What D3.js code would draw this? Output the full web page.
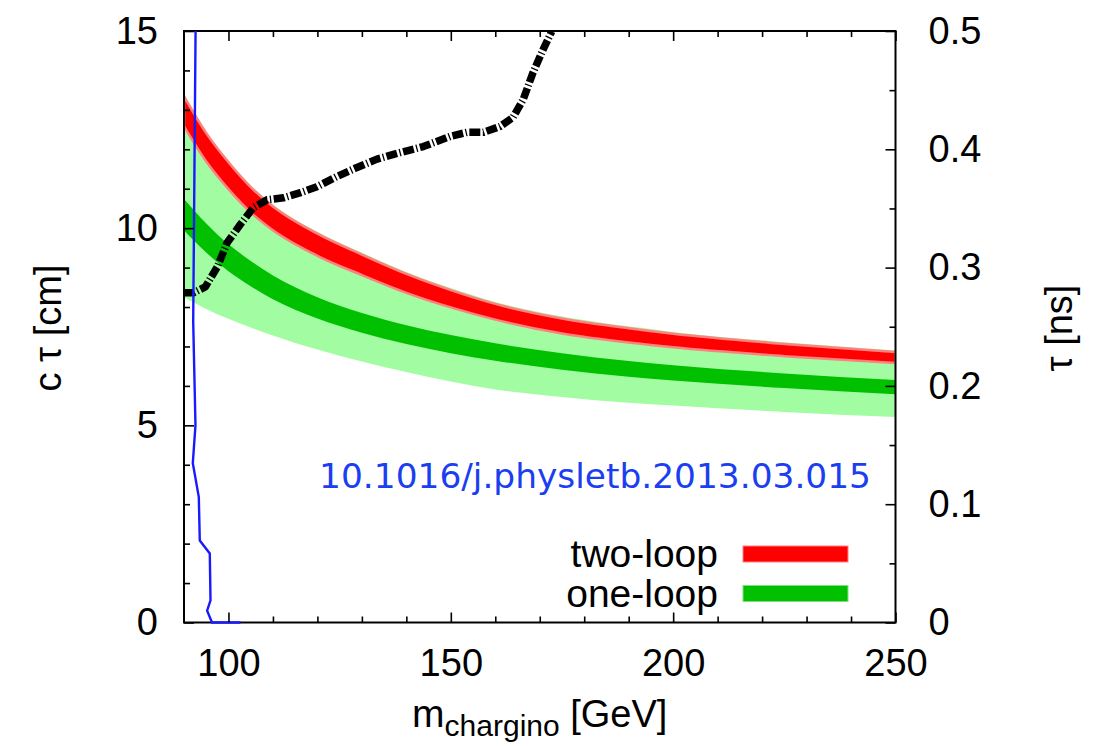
<!DOCTYPE html>
<html><head><meta charset="utf-8">
<script src="https://cdn.jsdelivr.net/npm/d3@7"></script>
<style>
body{margin:0;background:#fff;}
svg{display:block;}
text{font-family:"Liberation Sans",Arial,Helvetica,sans-serif;fill:#000;}
</style></head>
<body>
<svg id="chart" width="1105" height="746"></svg>
<script>
// ---- data ----
const masses = [90,95,100,105,110,120,130,140,150,160,175,190,200,225,250];
const twoLoopHigh = [13.34,12.41,11.67,11.04,10.55,9.86,9.33,8.84,8.43,8.08,7.71,7.46,7.32,7.065,6.86];
const twoLoopLow  = [12.58,11.69,10.99,10.40,9.95,9.30,8.81,8.36,7.99,7.68,7.33,7.10,6.98,6.755,6.58];
const oneLoopHigh = [10.74,10.12,9.59,9.17,8.80,8.25,7.85,7.54,7.29,7.08,6.83,6.63,6.525,6.315,6.15];
const oneLoopLow  = [9.94,9.38,8.91,8.53,8.20,7.71,7.35,7.06,6.83,6.64,6.41,6.23,6.135,5.945,5.79];
const oneLoopRangeHigh = [13.40,12.46,11.72,11.09,10.60,9.91,9.38,8.89,8.48,8.13,7.76,7.51,7.37,7.11,6.90];
const oneLoopRangeLow  = [8.25,7.95,7.70,7.48,7.28,6.92,6.62,6.35,6.11,5.91,5.72,5.57,5.50,5.34,5.21];
const limitMass = [90,92.1,94.8,97.5,99.7,102.7,105.6,108.7,112.4,116.2,119.9,124.4,128.9,133.4,138.7,143.8,149.9,153.6,157.3,161.1,164.0,166.3,168.5,170.8,172.7];
const limitCtau = [8.36,8.36,8.51,9.02,9.63,10.1,10.52,10.72,10.77,10.9,11.05,11.31,11.54,11.75,11.92,12.07,12.33,12.43,12.43,12.58,12.81,13.27,13.95,14.54,14.99];
const blueMass = [92.6,92.07,92.58,91.98,93.33,93.55,95.8,95.96,95.2,96.3,102.7];
const blueCtau = [15,7.62,5.0,4.04,3.18,2.08,1.75,0.56,0.30,0.0,0.0];
const xMajorTicks = [100,150,200,250];
const yMajorTicks = [0,5,10,15];
const y2MajorTicks = [0,0.1,0.2,0.3,0.4,0.5];
const legendLabels = ["two-loop","one-loop"];
const doiText = "10.1016/j.physletb.2013.03.015";

// ---- layout ----
const L=184, R=895.5, T=31, B=622.5;
const svg = d3.select("#chart");
const x = d3.scaleLinear().domain([90,250]).range([L,R]);
const y = d3.scaleLinear().domain([0,15]).range([B,T]);
const y2 = d3.scaleLinear().domain([0,0.5]).range([B,T]);

svg.append("defs").append("clipPath").attr("id","clip")
  .append("rect").attr("x",L).attr("y",T).attr("width",R-L).attr("height",B-T);
const plot = svg.append("g").attr("clip-path","url(#clip)");

function band(hi, lo){
  return d3.area().x((d,i)=>x(masses[i])).y0((d,i)=>y(lo[i])).y1((d,i)=>y(hi[i])).curve(d3.curveMonotoneX)(masses);
}
plot.append("path").attr("d",band(oneLoopRangeHigh,oneLoopRangeLow)).attr("fill","#a2fca2");
plot.append("path").attr("d",band(twoLoopHigh,twoLoopLow)).attr("fill","#ff0000").attr("stroke","#ff8080").attr("stroke-width",2.5);
plot.append("path").attr("d",band(oneLoopHigh,oneLoopLow)).attr("fill","#00c000");

const limitLine = d3.line().x(d=>x(d[0])).y(d=>y(d[1])).curve(d3.curveLinear);
plot.append("path").attr("d",limitLine(limitMass.map((m,i)=>[m,limitCtau[i]])))
  .attr("fill","none").attr("stroke","#000").attr("stroke-width",7.5)
  .attr("stroke-dasharray","11,2.5,1.3,2.5").attr("stroke-linejoin","round");

// frame
svg.append("rect").attr("x",L).attr("y",T).attr("width",R-L).attr("height",B-T)
  .attr("fill","none").attr("stroke","#000").attr("stroke-width",2);

// blue line on top
svg.append("path").attr("d",limitLine(blueMass.map((m,i)=>[m,blueCtau[i]])))
  .attr("fill","none").attr("stroke","#1a1aff").attr("stroke-width",2.4);

// ---- axes ----
const fs = 38;
function styleAxis(g){ g.select(".domain").remove(); g.selectAll("line").attr("stroke","#000").attr("stroke-width",1.6);
  g.selectAll("text").attr("font-size",fs).attr("font-family",'"Liberation Sans",Arial,sans-serif'); }
const xMinor = d3.range(100,250,10).filter(v=>!xMajorTicks.includes(v));
// bottom
svg.append("g").attr("transform",`translate(0,${B})`).call(d3.axisBottom(x).tickValues(xMajorTicks).tickSize(-10).tickPadding(27).tickFormat(d3.format("d"))).call(styleAxis);
svg.append("g").attr("transform",`translate(0,${B})`).call(d3.axisBottom(x).tickValues(xMinor).tickSize(-6).tickFormat("")).call(styleAxis);
// top (mirror)
svg.append("g").attr("transform",`translate(0,${T})`).call(d3.axisTop(x).tickValues(xMajorTicks).tickSize(-10).tickFormat("")).call(styleAxis);
svg.append("g").attr("transform",`translate(0,${T})`).call(d3.axisTop(x).tickValues(xMinor).tickSize(-6).tickFormat("")).call(styleAxis);
// left
const yMinor = d3.range(1,15,1).filter(v=>!yMajorTicks.includes(v));
svg.append("g").attr("transform",`translate(${L},0)`).call(d3.axisLeft(y).tickValues(yMajorTicks).tickSize(-10).tickPadding(26).tickFormat(d3.format("d"))).call(styleAxis);
svg.append("g").attr("transform",`translate(${L},0)`).call(d3.axisLeft(y).tickValues(yMinor).tickSize(-6).tickFormat("")).call(styleAxis);
// right
const y2Minor = [0.05,0.15,0.25,0.35,0.45];
svg.append("g").attr("transform",`translate(${R},0)`).call(d3.axisRight(y2).tickValues(y2MajorTicks).tickSize(-10).tickPadding(33).tickFormat(d=>d===0?"0":d3.format(".1f")(d))).call(styleAxis);
svg.append("g").attr("transform",`translate(${R},0)`).call(d3.axisRight(y2).tickValues(y2Minor).tickSize(-6).tickFormat("")).call(styleAxis);

// ---- axis titles ----
svg.append("text").attr("transform","translate(61,328) rotate(-90)").attr("text-anchor","middle").attr("font-size",fs).text("c τ [cm]");
svg.append("text").attr("transform","translate(1072,328) rotate(-90)").attr("text-anchor","middle").attr("font-size",fs).text("τ [ns]");
const xl = svg.append("text").attr("x",(L+R)/2).attr("y",727).attr("text-anchor","middle").attr("font-size",fs);
xl.append("tspan").attr("font-size",39).text("m");
xl.append("tspan").attr("font-size",30).attr("dy",9).text("chargino");
xl.append("tspan").attr("dy",-9).text(" [GeV]");

// ---- DOI ----
svg.append("text").attr("x",871).attr("y",488).attr("text-anchor","end")
  .attr("font-family",'"DejaVu Sans",sans-serif').style("font-family",'"DejaVu Sans",sans-serif')
  .attr("font-size",34.4).style("fill","#1a3ef0").text(doiText);

// ---- legend ----
const legColors = ["#ff0000","#00c000"], legEdge=["#ff8080","#80e080"];
legendLabels.forEach((lab,i)=>{
  const cy = 554 + i*39.5;
  svg.append("text").attr("x",718).attr("y",cy+13).attr("text-anchor","end").attr("font-size",39).text(lab);
  svg.append("rect").attr("x",743).attr("y",cy-8).attr("width",105).attr("height",16)
    .attr("fill",legColors[i]).attr("stroke",legEdge[i]).attr("stroke-width",1);
});
</script>
</body></html>
